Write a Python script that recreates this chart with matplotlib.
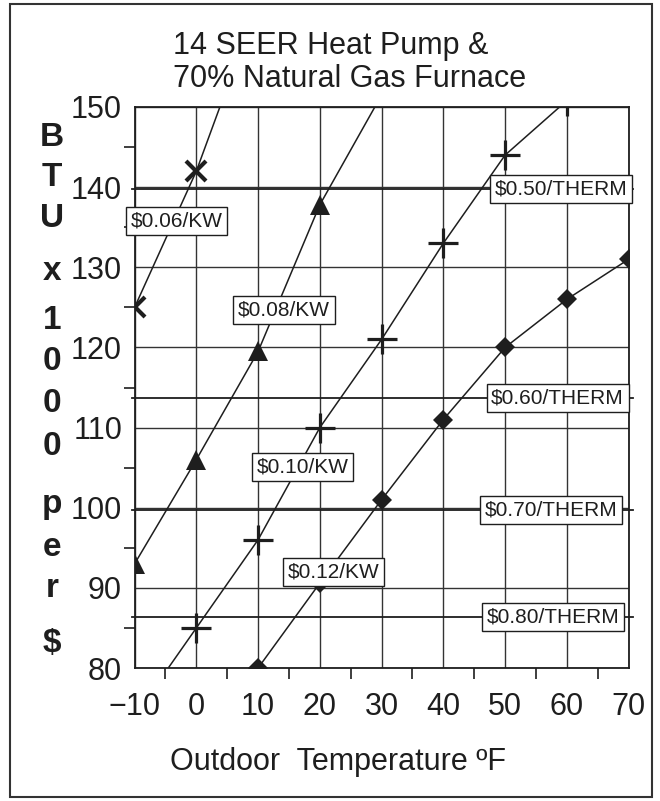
import matplotlib
matplotlib.use('Agg')
import matplotlib.pyplot as plt
from matplotlib.patches import Rectangle

plt.rcParams['font.family'] = ['Liberation Sans', 'DejaVu Sans']

# ---- data ----
temps_06 = [-10, 0, 10]
btu_06 = [125, 142, 163]
temps_08 = [-10, 0, 10, 20, 30]
btu_08 = [93, 106, 119.5, 137.8, 151.5]
temps_10 = [-10, 0, 10, 20, 30, 40, 50, 60]
btu_10 = [74, 85, 96, 110, 121, 133, 144, 150.8]
temps_12 = [0, 10, 20, 30, 40, 50, 60, 70]
btu_12 = [69.5, 80, 90.6, 101, 111, 120, 126, 131]

kw_labels = ['\\$0.06/KW', '\\$0.08/KW', '\\$0.10/KW', '\\$0.12/KW']
therm_labels = ['\\$0.50/THERM', '\\$0.60/THERM', '\\$0.70/THERM', '\\$0.80/THERM']
therm_btu = [139.8, 113.7, 99.7, 86.4]

x_ticks = [-10, 0, 10, 20, 30, 40, 50, 60, 70]
y_ticks = [80, 90, 100, 110, 120, 130, 140, 150]
ylabel_letters = ['B', 'T', 'U', 'x', '1', '0', '0', '0', 'p', 'e', 'r', '$']

title_lines = ['14 SEER Heat Pump &', '70% Natural Gas Furnace']
xlabel = 'Outdoor  Temperature \u00baF'

# ---- figure ----
W, H = 660, 801
fig = plt.figure(figsize=(W / 100, H / 100), dpi=100)
ink = '#1e1e1e'

L, R, T, B = 134.6, 628.6, 107, 668
ax = fig.add_axes([L / W, 1 - B / H, (R - L) / W, (B - T) / H])
ax.set_xlim(-10, 70)
ax.set_ylim(80, 150)
ax.set_xticks(x_ticks)
ax.set_yticks(y_ticks)
ax.set_xticklabels([str(v).replace('-', '\u2212') for v in x_ticks])
ax.set_xticks([v + 5 for v in x_ticks[:-1]], minor=True)
ax.set_yticks([v + 5 for v in y_ticks[:-1]], minor=True)
ax.tick_params(which='major', length=0, labelsize=22, colors=ink)
ax.tick_params(axis='x', which='major', pad=17)
ax.tick_params(axis='y', which='major', pad=9)
ax.tick_params(which='minor', direction='out', length=8, width=1.2, color=ink)
ax.grid(True, which='major', color='#333333', lw=1.0)
ax.set_axisbelow(True)
for s in ax.spines.values():
    s.set_color(ink)
    s.set_linewidth(1.3)

series = [
    (temps_06, btu_06, dict(marker='x', ms=15, mew=3.0)),
    (temps_08, btu_08, dict(marker='^', ms=14, mew=0)),
    (temps_10, btu_10, dict(marker='+', ms=21, mew=2.3)),
    (temps_12, btu_12, dict(marker='D', ms=10.5, mew=0)),
]
for xs, ys, kw in series:
    ax.plot(xs, ys, color=ink, lw=1.1, mfc=ink, mec=ink, **kw)

# therm lines extend slightly past both axes
for yv in therm_btu:
    ax.plot([-10.4, 70.7], [yv, yv], color=ink, lw=1.3, clip_on=False, zorder=2.5)

box = dict(boxstyle='square,pad=0.22', fc='white', ec=ink, lw=1.0)
kw_pos = [(-3.2, 135.8), (14.2, 124.7), (17.2, 105.1), (22.2, 92.0)]
for (px, py), lab in zip(kw_pos, kw_labels):
    ax.text(px, py, lab, ha='center', va='center', fontsize=15, color=ink, bbox=box, zorder=5)
therm_x = [59.1, 58.5, 57.5, 57.8]
for px, yv, lab in zip(therm_x, therm_btu, therm_labels):
    ax.text(px, yv, lab, ha='center', va='center', fontsize=15, color=ink, bbox=box, zorder=5)

# title
fig.text(173 / W, 1 - 46 / H, title_lines[0], ha='left', va='center', fontsize=22, color=ink)
fig.text(173 / W, 1 - 79 / H, title_lines[1], ha='left', va='center', fontsize=22, color=ink)

# x label
fig.text(338 / W, 1 - 762 / H, xlabel, ha='center', va='center', fontsize=22, color=ink)

# stacked y label
letter_base = [146, 186, 227, 280, 329, 370, 412, 455, 513, 556, 597, 652]
for ch, yb in zip(ylabel_letters, letter_base):
    fig.text(52 / W, 1 - yb / H, ch.replace('$', '\\$'), ha='center', va='baseline',
             fontsize=24, fontweight='bold', color=ink)

# frame around the figure
fig.patches.append(Rectangle((10 / W, 1 - 797 / H), (652 - 10) / W, (797 - 4) / H,
                             transform=fig.transFigure, fill=False, ec='#333333', lw=1.5))

fig.savefig('out.png', dpi=100)
